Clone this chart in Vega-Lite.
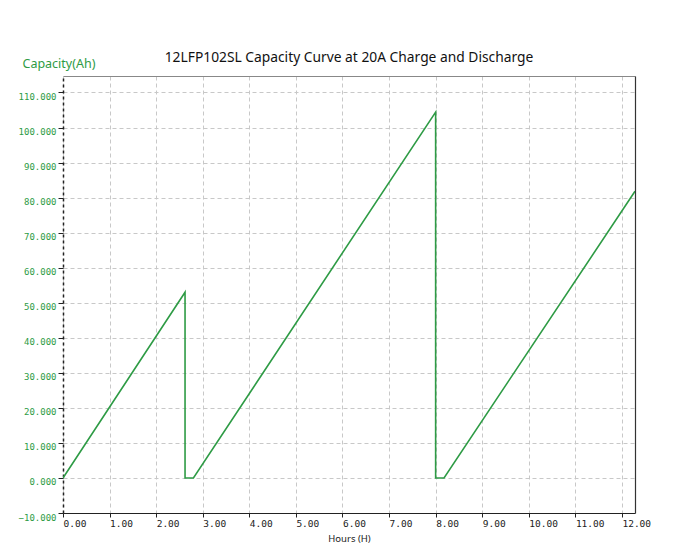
{
  "$schema": "https://vega.github.io/schema/vega-lite/v6.json",
  "width": 572,
  "height": 437,
  "autosize": "none",
  "padding": {"left": 63, "top": 76, "right": 52, "bottom": 44},
  "background": "white",
  "config": {
    "view": {"stroke": null},
    "font": "Noto Sans"
  },
  "title": {
    "text": "12LFP102SL Capacity Curve at 20A Charge and Discharge",
    "fontSize": 13.8,
    "fontWeight": "normal",
    "color": "#111",
    "font": "Noto Sans",
    "anchor": "middle",
    "offset": -8
  },
  "data": {
    "values": [
      {"i": 0, "hours": 0, "cap": 0},
      {"i": 1, "hours": 2.62, "cap": 53},
      {"i": 2, "hours": 2.62, "cap": 0},
      {"i": 3, "hours": 2.8, "cap": 0},
      {"i": 4, "hours": 8.0, "cap": 104.4},
      {"i": 5, "hours": 8.0, "cap": 0},
      {"i": 6, "hours": 8.18, "cap": 0},
      {"i": 7, "hours": 12.28, "cap": 81.8}
    ]
  },
  "resolve": {"axis": {"x": "independent", "y": "independent"}},
  "layer": [
    {
      "mark": {"type": "line", "color": "#2e9b45", "strokeWidth": 1.6, "clip": true},
      "encoding": {
        "x": {
          "field": "hours", "type": "quantitative",
          "scale": {"domain": [0, 12.28], "nice": false, "zero": false},
          "axis": {
            "orient": "bottom",
            "values": [0,1,2,3,4,5,6,7,8,9,10,11,12],
            "format": ".2f",
            "labelFont": "DejaVu Sans Mono",
            "labelFontSize": 9.5,
            "labelColor": "#222",
            "labelAlign": "left",
            "labelBaseline": "top",
            "labelPadding": 1,
            "labelFlush": false,
            "labelOverlap": false,
            "tickSize": 4,
            "tickColor": "#222",
            "domainColor": "#222",
            "domainWidth": 1.2,
            "grid": true,
            "gridDash": [4, 3],
            "gridColor": "#c8c8c8",
            "title": "Hours (H)",
            "titleFont": "Noto Sans",
            "titleFontSize": 9.5,
            "titleFontWeight": "normal",
            "titleColor": "#222",
            "titleX": 286,
            "titleY": 25,
            "titleBaseline": "middle",
            "titleAlign": "center"
          }
        },
        "y": {
          "field": "cap", "type": "quantitative",
          "scale": {"domain": [-10, 114.7], "nice": false, "zero": false},
          "axis": {
            "orient": "left",
            "values": [-10,0,10,20,30,40,50,60,70,80,90,100,110],
            "format": ".3f",
            "labelFont": "DejaVu Sans Mono",
            "labelFontSize": 9,
            "labelColor": "#2e9b45",
            "labelBaseline": "top",
            "labelPadding": 2,
            "tickSize": 5,
            "tickColor": "#222",
            "domainColor": "#222",
            "domainWidth": 1.5,
            "domainDash": [3, 3],
            "grid": true,
            "gridDash": [4, 3],
            "gridColor": "#c8c8c8",
            "title": "Capacity(Ah)",
            "titleFont": "Noto Sans",
            "titleFontSize": 12.5,
            "titleFontWeight": "normal",
            "titleColor": "#2e9b45",
            "titleAngle": 0,
            "titleAlign": "left",
            "titleBaseline": "middle",
            "titleX": -41,
            "titleY": -13
          }
        },
        "order": {"field": "i", "type": "quantitative"}
      }
    },
    {
      "mark": {"type": "point", "opacity": 0},
      "encoding": {
        "x": {
          "field": "hours", "type": "quantitative",
          "axis": {"orient": "top", "labels": false, "ticks": false, "grid": false, "title": null, "domainColor": "#888", "domainWidth": 1.2}
        },
        "y": {
          "field": "cap", "type": "quantitative",
          "axis": {"orient": "right", "labels": false, "ticks": false, "grid": false, "title": null, "domainColor": "#333", "domainWidth": 1.2}
        }
      }
    }
  ]
}
